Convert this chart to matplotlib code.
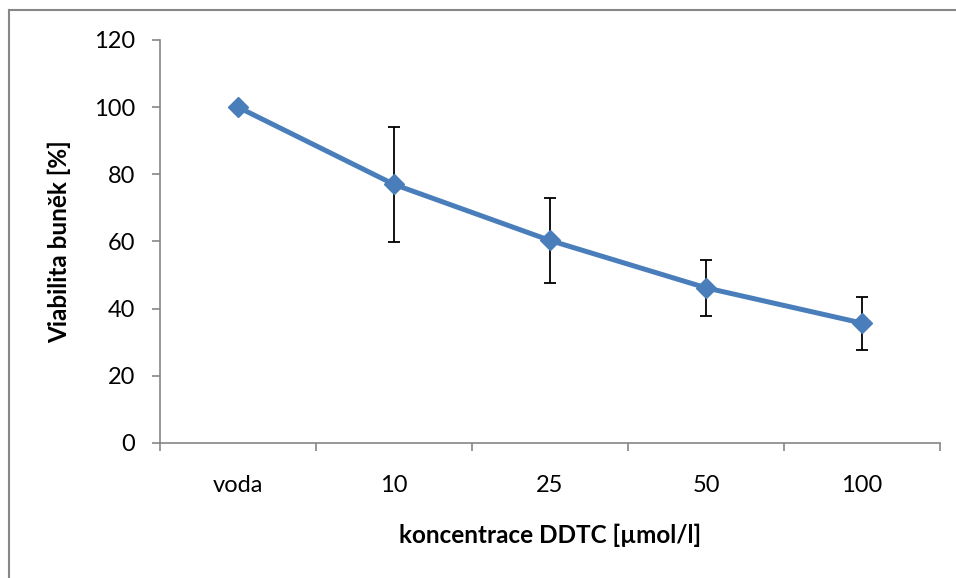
import matplotlib.pyplot as plt
from matplotlib.lines import Line2D

categories = ['voda', '10', '25', '50', '100']
viability = [100, 77.0, 60.3, 46.2, 35.7]
errors = [0, 17.2, 12.7, 8.3, 7.9]

plt.rcParams['font.family'] = ['Lato', 'DejaVu Sans']

fig = plt.figure(figsize=(9.56, 5.78), dpi=100)
ax = fig.add_axes([0.1674, 0.2336, 0.8159, 0.6972])

x = list(range(len(categories)))
ax.errorbar(x, viability, yerr=errors, fmt='none', ecolor='black',
            elinewidth=1.3, capsize=4.5, capthick=1.3, zorder=2)
ax.plot(x, viability, color='#4a7ebb', linewidth=3.6, marker='D',
        markersize=10, zorder=3)

ax.set_xlim(-0.5, len(categories) - 0.5)
ax.set_ylim(0, 120)
ax.set_yticks(range(0, 121, 20))
ax.set_xticks(x)
ax.set_xticklabels(categories)
ax.set_xticks([i - 0.5 for i in range(len(categories) + 1)], minor=True)

for side in ['top', 'right']:
    ax.spines[side].set_visible(False)
for side in ['left', 'bottom']:
    ax.spines[side].set_color('#868686')
    ax.spines[side].set_linewidth(1.2)

ax.tick_params(axis='x', which='major', length=0, pad=23, labelsize=17)
ax.tick_params(axis='x', which='minor', length=6, width=1.2, color='#868686')
ax.tick_params(axis='y', length=6, width=1.2, color='#868686', pad=12,
               labelsize=17)

ax.set_xlabel('koncentrace DDTC [µmol/l]', fontsize=17.5, fontweight='bold',
              labelpad=20)
ax.set_ylabel('Viabilita buněk [%]', fontsize=17.5, fontweight='bold',
              labelpad=16)

# outer frame (only top and left edges visible)
fig.add_artist(Line2D([0.0094, 1.0], [0.9827, 0.9827], color='#868686',
                      linewidth=1.5, transform=fig.transFigure))
fig.add_artist(Line2D([0.0094, 0.0094], [0.0, 0.9827], color='#868686',
                      linewidth=1.5, transform=fig.transFigure))

fig.savefig('out.png', dpi=100)
